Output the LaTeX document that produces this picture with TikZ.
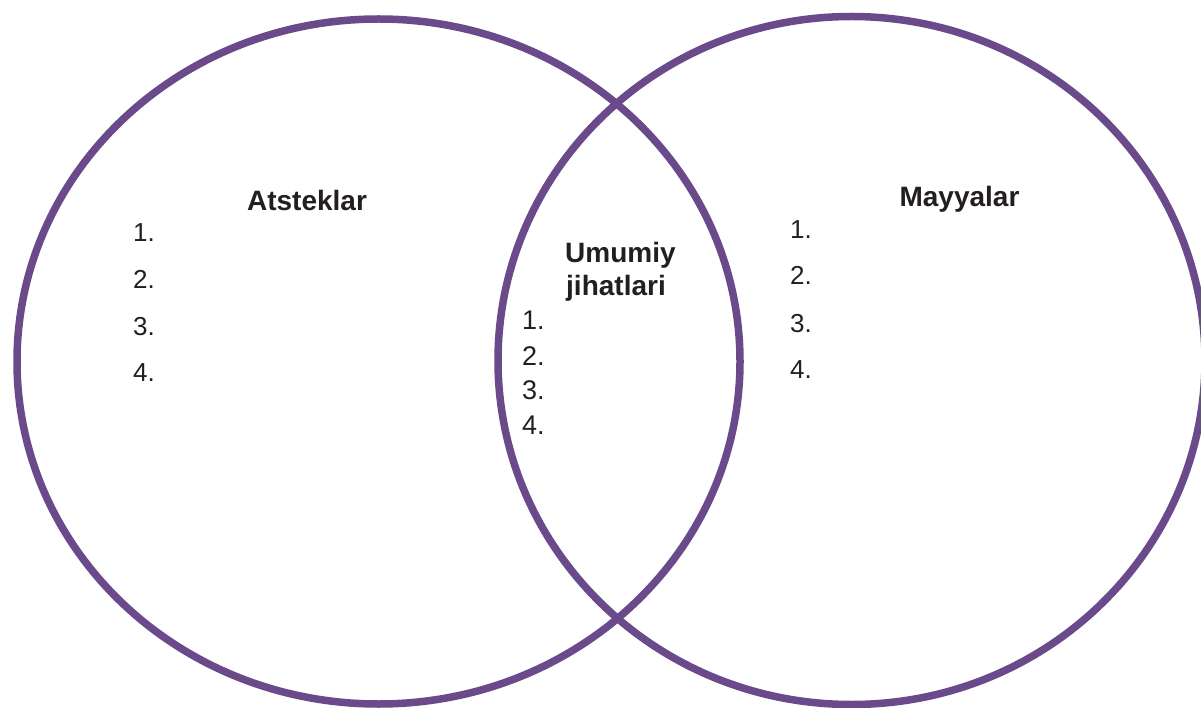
\documentclass[tikz,border=0pt]{standalone}
\usepackage{fontspec}
\setmainfont{Liberation Sans}
\definecolor{vennpurple}{RGB}{106,74,139}
\definecolor{txt}{RGB}{35,31,32}
\tikzset{
  ring/.style={draw=vennpurple, line width=7.5pt},
  head/.style={inner sep=0pt, text=txt, font=\fontsize{28}{33}\selectfont\bfseries},
  item/.style={inner sep=0pt, anchor=base west, text=txt, font=\fontsize{26}{30}\selectfont},
  citem/.style={inner sep=0pt, anchor=base west, text=txt, font=\fontsize{27}{31}\selectfont}
}
\begin{document}
\begin{tikzpicture}[x=1pt,y=-1pt]
\useasboundingbox (0,0) rectangle (1201,708);
\fill[white] (0,0) rectangle (1201,708);
\begin{scope}
\clip (0,0) rectangle (1201,708);
\draw[ring] (378.5,361.5) ellipse [x radius=361.5, y radius=342.5];
\draw[ring] (851.5,360.5) ellipse [x radius=353.5, y radius=344];
\end{scope}

\node[head, anchor=base] (atsteklar) at (307,211) {Atsteklar};
\node[item] (a1) at (133,241.7) {1.};
\node[item] (a2) at (133,288.3) {2.};
\node[item] (a3) at (133,335.3) {3.};
\node[item] (a4) at (133,381.7) {4.};

\node[head, anchor=base] (mayyalar) at (959.5,207) {Mayyalar};
\node[item] (m1) at (790,238.3) {1.};
\node[item] (m2) at (790,285) {2.};
\node[item] (m3) at (790,332) {3.};
\node[item] (m4) at (790,378.3) {4.};

\node[head, anchor=base west] (umumiy) at (565,263) {Umumiy};
\node[head, anchor=base west] (jihat) at (566,295.5) {jihatlari};
\node[citem] (c1) at (522,330) {1.};
\node[citem] (c2) at (522,365) {2.};
\node[citem] (c3) at (522,399.5) {3.};
\node[citem] (c4) at (522,434) {4.};
\end{tikzpicture}
\end{document}
